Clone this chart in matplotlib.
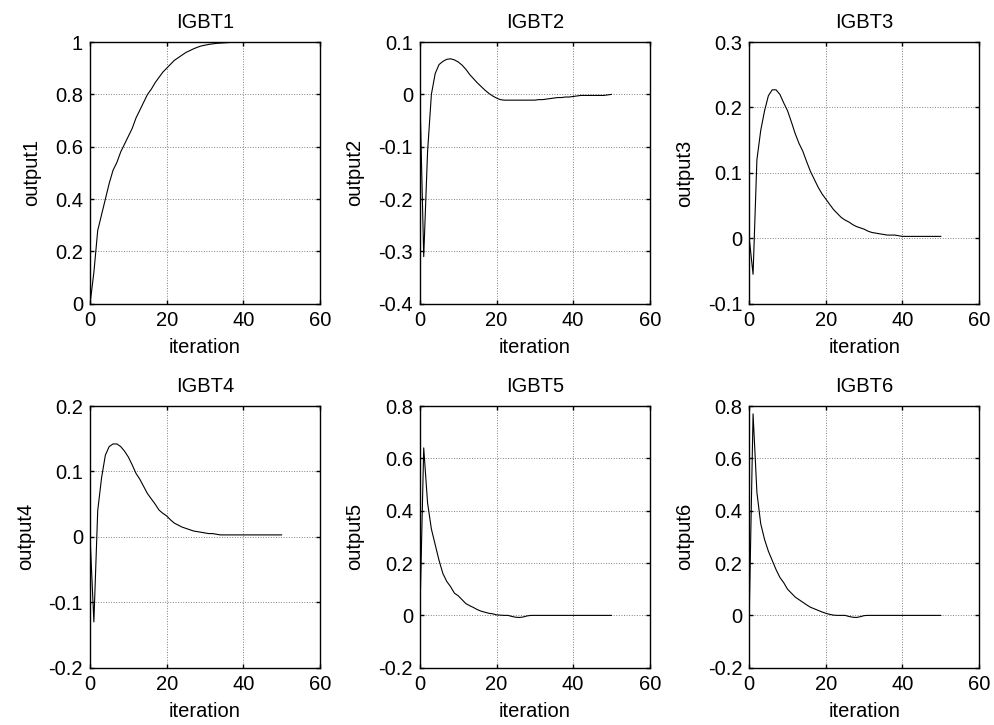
import matplotlib
matplotlib.use("Agg")
import matplotlib.pyplot as plt
import numpy as np

plt.rcParams['font.family'] = ['Liberation Sans', 'DejaVu Sans']

# iteration axis
iteration = list(range(51))

# outputs, one value per iteration
output1 = [0.0, 0.12, 0.28, 0.34, 0.40, 0.46, 0.51, 0.54, 0.58, 0.61,
           0.64, 0.67, 0.71, 0.74, 0.77, 0.80, 0.82, 0.845, 0.865, 0.885,
           0.90, 0.915, 0.93, 0.94, 0.95, 0.96, 0.967, 0.974, 0.98, 0.985,
           0.988, 0.991, 0.993, 0.995, 0.996, 0.997, 0.998, 0.999, 1.0, 1.0,
           1.0, 1.0, 1.0, 1.0, 1.0, 1.0, 1.0, 1.0, 1.0, 1.0, 1.0]
output2 = [0.0, -0.31, -0.11, 0.0, 0.04, 0.057, 0.063, 0.067, 0.068, 0.066,
           0.062, 0.056, 0.048, 0.038, 0.03, 0.022, 0.015, 0.008, 0.002, -0.003,
           -0.007, -0.01, -0.011, -0.011, -0.011, -0.011, -0.011, -0.011, -0.011, -0.011,
           -0.011, -0.01, -0.01, -0.009, -0.008, -0.007, -0.006, -0.006, -0.005, -0.005,
           -0.004, -0.003, -0.002, -0.002, -0.002, -0.002, -0.002, -0.002, -0.002, -0.001, 0.0]
output3 = [0.0, -0.055, 0.12, 0.165, 0.195, 0.218, 0.227, 0.227, 0.22, 0.207,
           0.195, 0.178, 0.16, 0.145, 0.133, 0.117, 0.102, 0.09, 0.078, 0.068,
           0.06, 0.052, 0.044, 0.038, 0.032, 0.028, 0.025, 0.021, 0.018, 0.016,
           0.014, 0.011, 0.009, 0.008, 0.007, 0.006, 0.005, 0.005, 0.005, 0.004,
           0.003, 0.003, 0.003, 0.003, 0.003, 0.003, 0.003, 0.003, 0.003, 0.003, 0.003]
output4 = [0.0, -0.13, 0.04, 0.09, 0.125, 0.138, 0.142, 0.142, 0.138, 0.131,
           0.122, 0.11, 0.097, 0.088, 0.077, 0.066, 0.058, 0.05, 0.041, 0.036,
           0.032, 0.026, 0.021, 0.018, 0.015, 0.013, 0.011, 0.009, 0.008, 0.007,
           0.006, 0.005, 0.005, 0.004, 0.003, 0.003, 0.003, 0.003, 0.003, 0.003,
           0.003, 0.003, 0.003, 0.003, 0.003, 0.003, 0.003, 0.003, 0.003, 0.003, 0.003]
output5 = [0.0, 0.64, 0.43, 0.33, 0.27, 0.21, 0.16, 0.13, 0.11, 0.085,
           0.075, 0.06, 0.045, 0.037, 0.03, 0.022, 0.016, 0.012, 0.008, 0.006,
           0.002, 0.001, 0.0, 0.0, -0.004, -0.007, -0.008, -0.006, -0.002, 0.0,
           0.0, 0.0, 0.0, 0.0, 0.0, 0.0, 0.0, 0.0, 0.0, 0.0,
           0.0, 0.0, 0.0, 0.0, 0.0, 0.0, 0.0, 0.0, 0.0, 0.0, 0.0]
output6 = [0.0, 0.77, 0.47, 0.35, 0.29, 0.245, 0.21, 0.175, 0.145, 0.125,
           0.10, 0.085, 0.07, 0.06, 0.05, 0.04, 0.031, 0.025, 0.019, 0.013,
           0.008, 0.004, 0.001, 0.0, 0.0, 0.0, -0.004, -0.007, -0.008, -0.005,
           -0.001, 0.0, 0.0, 0.0, 0.0, 0.0, 0.0, 0.0, 0.0, 0.0,
           0.0, 0.0, 0.0, 0.0, 0.0, 0.0, 0.0, 0.0, 0.0, 0.0, 0.0]

titles = ['IGBT1', 'IGBT2', 'IGBT3', 'IGBT4', 'IGBT5', 'IGBT6']
ylabels = ['output1', 'output2', 'output3', 'output4', 'output5', 'output6']
outputs = [output1, output2, output3, output4, output5, output6]
yticks = [[0, 0.2, 0.4, 0.6, 0.8, 1],
          [-0.4, -0.3, -0.2, -0.1, 0, 0.1],
          [-0.1, 0, 0.1, 0.2, 0.3],
          [-0.2, -0.1, 0, 0.1, 0.2],
          [-0.2, 0, 0.2, 0.4, 0.6, 0.8],
          [-0.2, 0, 0.2, 0.4, 0.6, 0.8]]
xticks = [0, 20, 40, 60]

fs = 14.5

fig = plt.figure(figsize=(9.95, 7.25), dpi=100)

# axes boxes (left, bottom, width, height) matched to the reference
lefts = [0.0905, 0.422, 0.753]
bottoms = [0.581, 0.079]
w, h = 0.231, 0.361

for i in range(6):
    r, c = divmod(i, 3)
    ax = fig.add_axes([lefts[c], bottoms[r], w, h])
    ax.plot(iteration, outputs[i], color='black', linewidth=0.8)
    ax.set_xlim(0, 60)
    ax.set_ylim(yticks[i][0], yticks[i][-1])
    ax.set_xticks(xticks)
    ax.set_yticks(yticks[i])
    ax.set_xticklabels([f'{t:g}' for t in xticks])
    ax.set_yticklabels([f'{t:g}' for t in yticks[i]])
    ax.grid(True, linestyle=':', color='#808080', linewidth=0.7)
    ax.tick_params(direction='in', top=True, right=True, labelsize=fs,
                   length=3, width=1)
    ax.tick_params(axis='x', pad=5)
    ax.tick_params(axis='y', pad=5)
    for s in ax.spines.values():
        s.set_linewidth(1.0)
    ax.set_title(titles[i], fontsize=fs, pad=10)
    ax.set_xlabel('iteration', fontsize=fs, labelpad=6)
    ax.set_ylabel(ylabels[i], fontsize=fs, labelpad=10)

plt.savefig('out.png', dpi=100)
